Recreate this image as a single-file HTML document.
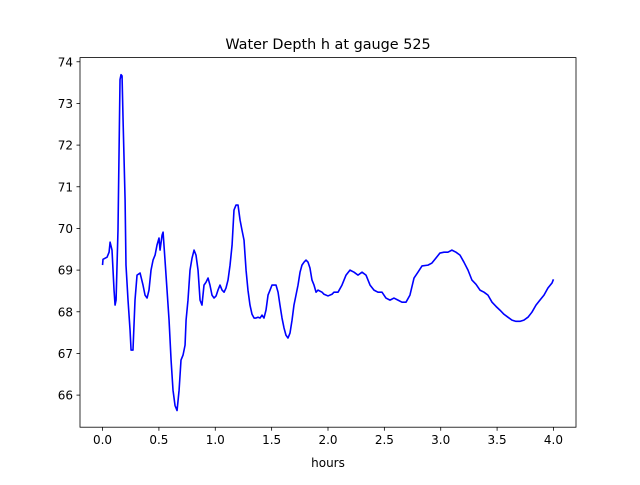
<!DOCTYPE html>
<html><head><meta charset="utf-8"><style>
body{margin:0;background:#fff;}
svg text{font-family:"DejaVu Sans","Liberation Sans",sans-serif;fill:#000;}
</style></head><body>
<svg id="chart" width="640" height="480" viewBox="0 0 640 480" xmlns="http://www.w3.org/2000/svg">
<rect width="640" height="480" fill="#fff"/>
<text x="328" y="49" font-size="14.4" text-anchor="middle">Water Depth h at gauge 525</text>
<g id="xticks"></g>
<g id="yticks"></g>
<path id="line" fill="none" stroke="#0000ff" stroke-width="1.6" stroke-linejoin="round"/>
<rect x="80" y="57.6" width="496" height="369.6" fill="none" stroke="#000" stroke-width="0.8"/>
<text x="328" y="467" font-size="12" text-anchor="middle">hours</text>
</svg>
<script>
const hours=[0,0.004,0.04,0.058,0.067,0.084,0.102,0.111,0.12,0.137,0.155,0.164,0.173,0.182,0.2,0.208,0.226,0.244,0.253,0.27,0.288,0.306,0.333,0.359,0.377,0.395,0.412,0.43,0.448,0.466,0.483,0.501,0.51,0.528,0.537,0.554,0.572,0.59,0.608,0.625,0.643,0.661,0.679,0.696,0.714,0.732,0.741,0.758,0.776,0.794,0.812,0.829,0.847,0.865,0.882,0.9,0.918,0.936,0.953,0.971,0.989,1.007,1.024,1.042,1.06,1.078,1.095,1.113,1.131,1.149,1.166,1.184,1.202,1.22,1.237,1.255,1.273,1.29,1.308,1.326,1.344,1.361,1.379,1.397,1.415,1.432,1.45,1.468,1.486,1.503,1.539,1.557,1.574,1.592,1.61,1.627,1.645,1.663,1.681,1.698,1.716,1.734,1.752,1.769,1.787,1.805,1.823,1.84,1.858,1.876,1.894,1.911,1.947,1.965,2.0,2.035,2.053,2.089,2.124,2.16,2.195,2.231,2.266,2.302,2.337,2.373,2.408,2.443,2.479,2.514,2.55,2.585,2.621,2.656,2.692,2.727,2.763,2.798,2.834,2.887,2.922,2.958,2.993,3.029,3.064,3.099,3.135,3.171,3.206,3.242,3.277,3.313,3.348,3.384,3.419,3.455,3.49,3.525,3.561,3.596,3.632,3.667,3.703,3.738,3.774,3.809,3.845,3.88,3.916,3.951,3.987,4.0];
const depth=[69.12,69.26,69.31,69.43,69.67,69.48,68.52,68.16,68.28,69.96,73.57,73.69,73.66,72.61,70.68,69.12,68.28,67.56,67.08,67.08,68.28,68.88,68.93,68.64,68.40,68.33,68.52,69.0,69.24,69.36,69.6,69.77,69.48,69.84,69.91,69.24,68.52,67.80,66.84,66.12,65.75,65.63,66.12,66.84,66.96,67.2,67.8,68.28,69.0,69.29,69.48,69.36,69.0,68.28,68.16,68.64,68.71,68.81,68.64,68.40,68.33,68.38,68.52,68.64,68.52,68.47,68.57,68.76,69.12,69.6,70.44,70.56,70.56,70.2,69.96,69.72,69.0,68.52,68.16,67.94,67.85,67.85,67.87,67.85,67.92,67.85,68.04,68.40,68.52,68.64,68.64,68.47,68.16,67.85,67.61,67.44,67.37,67.49,67.80,68.16,68.40,68.64,68.95,69.12,69.19,69.24,69.19,69.05,68.76,68.64,68.47,68.52,68.47,68.42,68.38,68.42,68.47,68.47,68.64,68.88,69.0,68.95,68.88,68.95,68.88,68.64,68.52,68.47,68.47,68.33,68.28,68.33,68.28,68.23,68.23,68.40,68.81,68.95,69.10,69.12,69.17,69.29,69.41,69.43,69.43,69.48,69.43,69.36,69.19,69.0,68.76,68.66,68.52,68.47,68.40,68.23,68.13,68.04,67.94,67.87,67.80,67.77,67.77,67.80,67.87,67.99,68.16,68.28,68.40,68.57,68.69,68.78];
const xTickValues=[0,0.5,1,1.5,2,2.5,3,3.5,4];
const xTickLabels=["0.0","0.5","1.0","1.5","2.0","2.5","3.0","3.5","4.0"];
const yTickValues=[66,67,68,69,70,71,72,73,74];
const yTickLabels=["66","67","68","69","70","71","72","73","74"];
const X0=80,X1=576,Y0=57.6,Y1=427.2,XMIN=-0.2,XMAX=4.2,YMIN=65.23,YMAX=74.1;
const sx=v=>X0+(v-XMIN)/(XMAX-XMIN)*(X1-X0);
const sy=v=>Y1-(v-YMIN)/(YMAX-YMIN)*(Y1-Y0);
const NS="http://www.w3.org/2000/svg";
function mk(tag,attrs,parent){const e=document.createElementNS(NS,tag);for(const k in attrs)e.setAttribute(k,attrs[k]);parent.appendChild(e);return e;}
const xg=document.getElementById('xticks'),yg=document.getElementById('yticks');
xTickValues.forEach((v,i)=>{const x=sx(v);
 const t=mk('line',{x1:x,x2:x,y1:Y1,y2:Y1+3.5,stroke:'#000','stroke-width':0.8},xg);
 
 
 const l=mk('text',{x:x,y:Y1+17,'font-size':12,'text-anchor':'middle'},xg);l.textContent=xTickLabels[i];
 
 });
yTickValues.forEach((v,i)=>{const y=sy(v);
 const t=mk('line',{x1:X0-3.5,x2:X0,y1:y,y2:y,stroke:'#000','stroke-width':0.8},yg);
 
 
 const l=mk('text',{x:X0-7,y:y+4.5,'font-size':12,'text-anchor':'end'},yg);l.textContent=yTickLabels[i];
 
 });
document.getElementById('line').setAttribute('d',hours.map((h,i)=>(i?'L':'M')+sx(h).toFixed(2)+' '+sy(depth[i]).toFixed(2)).join(' '));
</script>
</body></html>
